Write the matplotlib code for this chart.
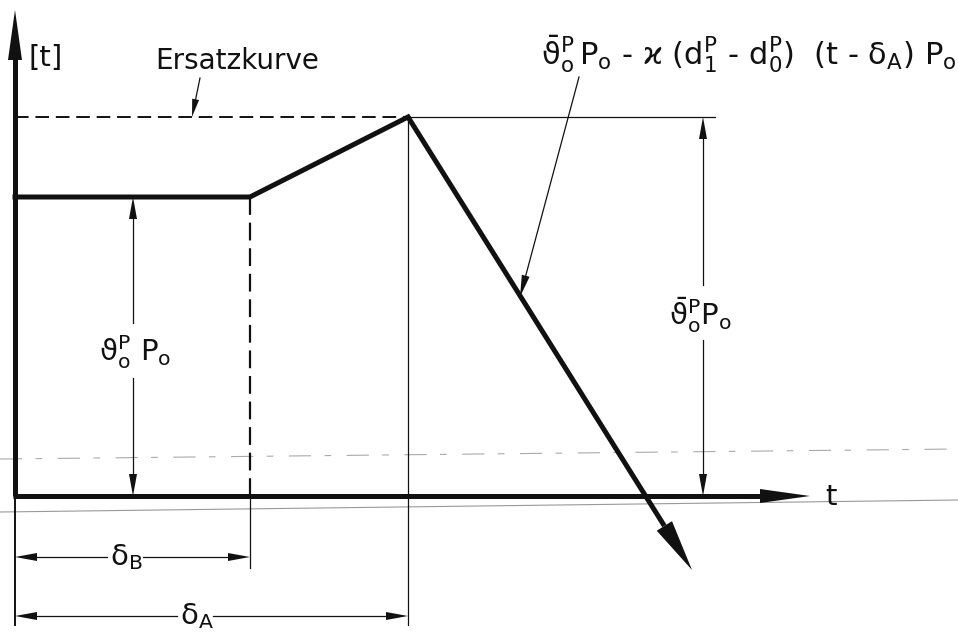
import numpy as np
import matplotlib
matplotlib.use("Agg")
import matplotlib.pyplot as plt

plt.rcParams['font.family'] = ['DejaVu Sans']
plt.rcParams['mathtext.fontset'] = 'dejavusans'
plt.rcParams['mathtext.default'] = 'regular'

# load curve: plateau up to delta_B, ramp to the peak at delta_A, then linear drop
t_B = 235
t_A = 393
plateau = 299
peak = 379
curve_t = [0, t_B, t_A]
curve_v = [plateau, plateau, peak]
drop_t = [t_A, 677]
drop_v = [peak, -74]
t_axis_end = 795
v_axis_end = 486

INK = '#111111'
THICK = 3.6
THIN = 0.9


def head(ax, tip, frm, length=22, hw=4.0):
    tip = np.array(tip, float)
    u = tip - np.array(frm, float)
    u /= np.hypot(*u)
    base = tip - u * length
    n = np.array([-u[1], u[0]])
    pts = np.array([tip, base + n * hw, base - n * hw])
    ax.fill(pts[:, 0], pts[:, 1], color=INK, lw=0, zorder=5)
    return base


def dim_v(ax, x, y0, y1, gap):
    # vertical dimension line with arrows on both ends, broken for the label
    b0 = head(ax, (x, y0), (x, y1))
    b1 = head(ax, (x, y1), (x, y0))
    ax.plot([x, x], [b0[1], gap[0]], color=INK, lw=THIN)
    ax.plot([x, x], [gap[1], b1[1]], color=INK, lw=THIN)


def dim_h(ax, y, x0, x1, gap):
    b0 = head(ax, (x0, y), (x1, y))
    b1 = head(ax, (x1, y), (x0, y))
    ax.plot([b0[0], gap[0]], [y, y], color=INK, lw=THIN)
    ax.plot([gap[1], b1[0]], [y, y], color=INK, lw=THIN)


fig = plt.figure(figsize=(9.58, 6.35), dpi=100)
ax = fig.add_axes([0, 0, 1, 1])
ax.set_xlim(-15, 943)
ax.set_ylim(-139, 496)
ax.axis('off')

# faint scanner streaks
ax.plot([-15, 943], [-16, -4], color='#999999', lw=0.8, zorder=0)
ax.plot([-15, 943], [37, 47], color='#aaaaaa', lw=0.8, zorder=0,
        dashes=(20, 12, 6, 14))

# axes
vb = head(ax, (0, v_axis_end), (0, 0), length=50, hw=7)
ax.plot([0, 0], [0, vb[1] + 2], color=INK, lw=THICK, solid_capstyle='butt')
ax.plot([0, 0], [-129, 0], color=INK, lw=1.4)
hb = head(ax, (t_axis_end, 0), (0, 0), length=50, hw=7)
ax.plot([-2, hb[0] + 2], [0, 0], color=INK, lw=THICK, solid_capstyle='butt')

# curve
ax.plot(curve_t, curve_v, color=INK, lw=THICK, solid_joinstyle='miter')
db = head(ax, (drop_t[1], drop_v[1]), (drop_t[0], drop_v[0]), length=52, hw=9)
ax.plot([drop_t[0], db[0]], [drop_v[0], db[1]], color=INK, lw=THICK,
        solid_capstyle='butt')

# substitute curve level and helper lines
ax.plot([0, t_A], [peak, peak], color=INK, lw=1.4, dashes=(7, 3.5))
ax.plot([t_A, 700], [peak, peak], color=INK, lw=THIN)
ax.plot([t_A, t_A], [-129, peak], color=INK, lw=THIN)
ax.plot([t_B, t_B], [0, plateau], color=INK, lw=1.6, dashes=(8, 3.5))
ax.plot([t_B, t_B], [-72, 0], color=INK, lw=THIN)

# dimensions
dim_v(ax, 118, 0, plateau, (118, 173))
dim_v(ax, 688, 0, peak, (156, 211))
dim_h(ax, -61, 0, t_B, (92, 128))
dim_h(ax, -120, 0, t_A, (162, 198))

fs = 21
ax.text(120, 144, r'$\vartheta_o^P\ P_o$', fontsize=fs, ha='center', va='center', color=INK)
ax.text(685, 181, r'$\bar{\vartheta}_o^P P_o$', fontsize=fs, ha='center', va='center', color=INK)
ax.text(111, -61, r'$\delta_B$', fontsize=fs, ha='center', va='center', color=INK)
ax.text(182, -120, r'$\delta_A$', fontsize=fs, ha='center', va='center', color=INK)
ax.text(31, 438, '[t]', fontsize=fs, ha='center', va='center', color=INK)
ax.text(816, -1, 't', fontsize=fs, ha='center', va='center', color=INK)

# leader for the substitute curve
ax.text(222, 435, 'Ersatzkurve', fontsize=20, ha='center', va='center', color=INK)
lb = head(ax, (177, 379), (185, 418), length=18, hw=3.5)
ax.plot([185, lb[0]], [418, lb[1]], color=INK, lw=THIN)

# leader for the falling branch
ax.text(942, 442,
        r'$\bar{\vartheta}_o^P\,P_o$ - ϰ $(d_1^P$ - $d_0^P)$  $(t$ - $\delta_A)$ $P_o$',
        fontsize=22, ha='right', va='center', color=INK)
fb = head(ax, (505, 199), (564, 419), length=22, hw=4)
ax.plot([564, fb[0]], [419, fb[1]], color=INK, lw=THIN)

fig.savefig('out.png', dpi=100, facecolor='white')
